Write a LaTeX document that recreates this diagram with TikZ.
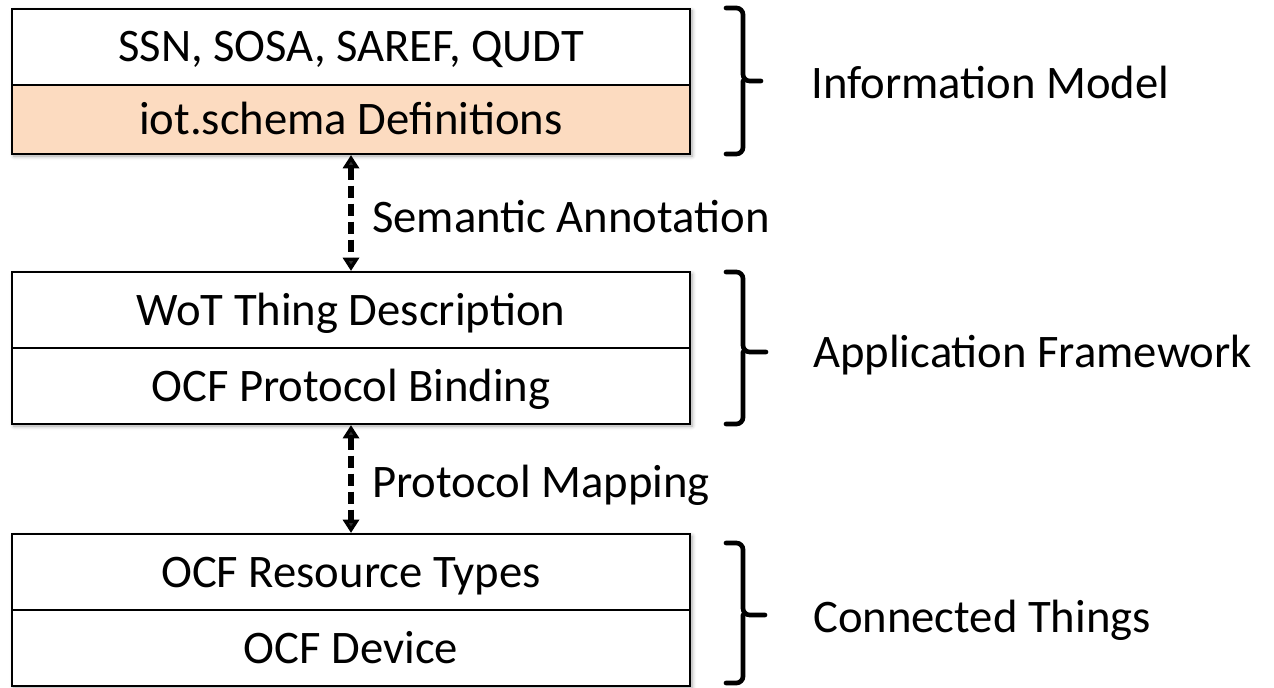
\documentclass[tikz,border=0pt]{standalone}
\usepackage{fontspec}
\setmainfont{Carlito}
\usetikzlibrary{arrows.meta,shadows.blur}
\definecolor{peach}{RGB}{252,219,192}
\tikzset{
  rowbox/.style={draw=black, line width=1.6pt, fill=white, rectangle, inner sep=0pt,
    minimum width=508.5pt, minimum height=57pt, text height=29.5pt, text depth=7pt,
    font=\fontsize{35pt}{40pt}\selectfont},
  outerbox/.style={blur shadow={shadow xshift=1.5pt, shadow yshift=-1.5pt, shadow blur steps=6, shadow opacity=35, shadow blur radius=3pt}},
  lbl/.style={anchor=base west, inner sep=0pt, font=\fontsize{35pt}{40pt}\selectfont},
  dasharrow/.style={line width=4pt, dash pattern=on 9pt off 4.5pt, {Triangle[width=12pt,length=10pt]}-{Triangle[width=12pt,length=10pt]}},
  bracket/.style={line width=3.5pt, rounded corners=5pt, line cap=round}
}
\begin{document}
\begin{tikzpicture}[x=0.75pt,y=-0.75pt]
\useasboundingbox (0,0) rectangle (1274,688);
% shadows behind boxes
\fill[white, outerbox] (12,9) rectangle (690,154);
\fill[white, outerbox] (12,272) rectangle (690,424);
\fill[white, outerbox] (12,534) rectangle (690,686);
% box 1
\node[rowbox] (ssn) at (351,47) {SSN, SOSA, SAREF, QUDT};
\node[rowbox, fill=peach, minimum height=51.75pt] (iot) at (351,119.5) {iot.schema Definitions};
% box 2
\node[rowbox] (wot) at (351,310) {WoT Thing Description};
\node[rowbox] (pb) at (351,386) {OCF Protocol Binding};
% box 3
\node[rowbox] (rt) at (351,572) {OCF Resource Types};
\node[rowbox] (dev) at (351,648) {OCF Device};
% arrows
\draw[dasharrow] (iot.south) -- (wot.north);
\draw[dasharrow] (pb.south) -- (rt.north);
\node[lbl] (sem) at (372,232) {Semantic Annotation};
\node[lbl] (pm) at (372,497) {Protocol Mapping};
% brackets
\draw[bracket] (726,8) -- (743,8) -- (743,81) -- (761,81);
\draw[bracket] (726,154) -- (743,154) -- (743,81);
\draw[bracket] (726,272) -- (743,272) -- (743,352) -- (766,352);
\draw[bracket] (726,424) -- (743,424) -- (743,352);
\draw[bracket] (726,543) -- (743,543) -- (743,615) -- (765,615);
\draw[bracket] (726,683) -- (743,683) -- (743,615);
% layer labels
\node[lbl] (im) at (811,99) {Information Model};
\node[lbl] (af) at (813,367) {Application Framework};
\node[lbl] (ct) at (813,632) {Connected Things};
\end{tikzpicture}
\end{document}
